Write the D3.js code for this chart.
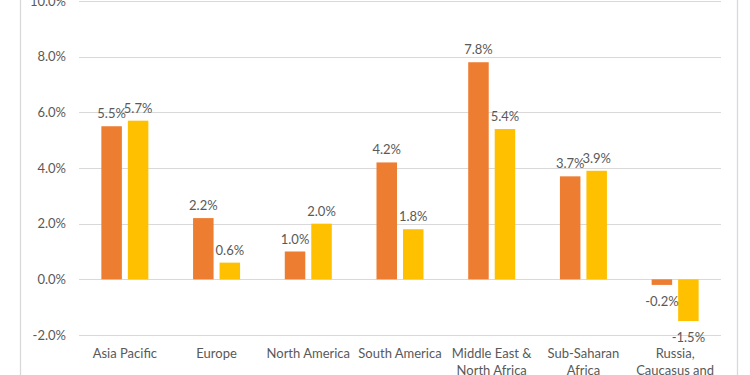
<!DOCTYPE html>
<html>
<head>
<meta charset="utf-8">
<script src="https://cdn.jsdelivr.net/npm/d3@7"></script>
<style>
  html, body { margin: 0; padding: 0; background: #fff; }
  svg { display: block; font-family: Lato, "Open Sans", sans-serif; }
</style>
</head>
<body>
<div id="chart"></div>
<script>
// data
const regions = [
    ['Asia Pacific'],
    ['Europe'],
    ['North America'],
    ['South America'],
    ['Middle East &', 'North Africa'],
    ['Sub-Saharan', 'Africa'],
    ['Russia,', 'Caucasus and', 'Central Asia']
];
const seriesNames = ['s1', 's2'];
const series1 = [5.5, 2.2, 1.0, 4.2, 7.8, 3.7, -0.2];
const series2 = [5.7, 0.6, 2.0, 1.8, 5.4, 3.9, -1.5];
const yTicks = [-2, 0, 2, 4, 6, 8, 10];
const colors = ['#ED7D31', '#FFC000'];

const width = 750, height = 375;
const fontSize = '13px';
const svg = d3.select('#chart').append('svg')
    .attr('width', width)
    .attr('height', height);

// frame lines on the sides
svg.append('line').attr('x1', 20.5).attr('x2', 20.5).attr('y1', 0).attr('y2', height)
    .attr('stroke', '#D9D9D9').attr('stroke-width', 1.3);
svg.append('line').attr('x1', 737.5).attr('x2', 737.5).attr('y1', 0).attr('y2', height)
    .attr('stroke', '#D9D9D9').attr('stroke-width', 1.3);

const x0 = d3.scaleBand()
    .domain(d3.range(regions.length))
    .range([79, 721]);

const x1 = d3.scaleBand()
    .domain(seriesNames)
    .range([x0.bandwidth() / 2 - 23.5, x0.bandwidth() / 2 + 23.5])
    .paddingInner(0.226);

const y = d3.scaleLinear()
    .domain([-2, 10])
    .range([335, 1]);

// gridlines
svg.append('g')
    .selectAll('line')
    .data(yTicks)
    .enter()
    .append('line')
    .attr('x1', 79)
    .attr('x2', 721)
    .attr('y1', d => Math.round(y(d)) + 0.5)
    .attr('y2', d => Math.round(y(d)) + 0.5)
    .attr('stroke', '#D9D9D9')
    .attr('stroke-width', 1);

// y axis labels
const yAxis = d3.axisLeft(y)
    .tickValues(yTicks)
    .tickSize(0)
    .tickPadding(0)
    .tickFormat(d => d.toFixed(1) + '%');

const gy = svg.append('g')
    .attr('transform', 'translate(66,0)')
    .call(yAxis);
gy.select('.domain').remove();
gy.selectAll('text')
    .attr('fill', '#595959')
    .attr('font-size', fontSize)
    .attr('font-family', 'Lato, "Open Sans", sans-serif');

// bars
const rows = regions.map((r, i) => ({ i, values: [series1[i], series2[i]] }));

const groups = svg.append('g')
    .selectAll('g')
    .data(rows)
    .enter()
    .append('g')
    .attr('transform', d => `translate(${x0(d.i)},0)`);

groups.selectAll('rect')
    .data(d => d.values.map((v, k) => ({ key: seriesNames[k], k, v })))
    .enter()
    .append('rect')
    .attr('x', d => x1(d.key))
    .attr('width', x1.bandwidth())
    .attr('y', d => y(Math.max(0, d.v)))
    .attr('height', d => Math.abs(y(d.v) - y(0)))
    .attr('fill', d => colors[d.k]);

// value labels
groups.selectAll('text')
    .data(d => d.values.map((v, k) => ({ key: seriesNames[k], k, v })))
    .enter()
    .append('text')
    .attr('x', d => x1(d.key) + x1.bandwidth() / 2)
    .attr('y', d => d.v >= 0 ? y(d.v) - 8 : y(d.v) + 21)
    .attr('text-anchor', 'middle')
    .attr('fill', '#595959')
    .attr('font-size', fontSize)
    .text(d => d.v.toFixed(1) + '%');

// category labels
const cat = svg.append('g')
    .selectAll('text')
    .data(regions)
    .enter()
    .append('text')
    .attr('x', (d, i) => x0(i) + x0.bandwidth() / 2)
    .attr('y', 358)
    .attr('text-anchor', 'middle')
    .attr('fill', '#595959')
    .attr('font-size', fontSize);

cat.selectAll('tspan')
    .data(d => d)
    .enter()
    .append('tspan')
    .attr('x', function() { return d3.select(this.parentNode).attr('x'); })
    .attr('dy', (d, i) => i === 0 ? 0 : 16.5)
    .text(d => d);
</script>
</body>
</html>
